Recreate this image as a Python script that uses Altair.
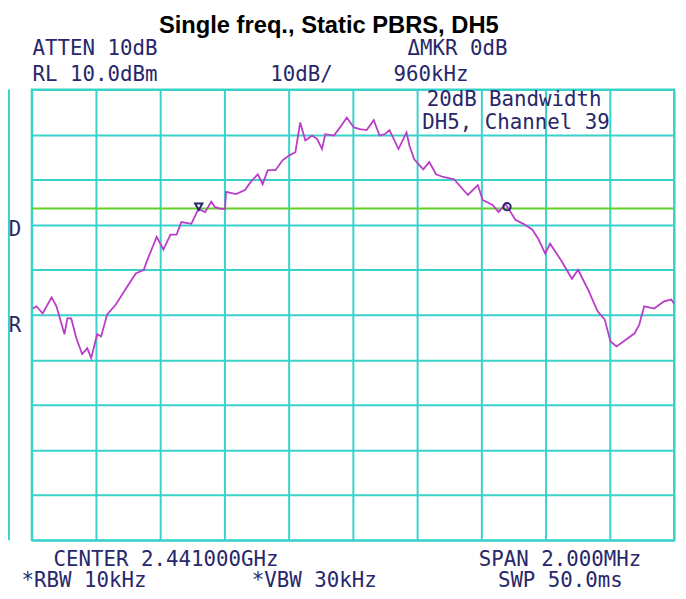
import altair as alt
import pandas as pd

# ---- data (frequency offset from centre in MHz, level in dBm) ----
freq_mhz = [-0.997, -0.985, -0.966, -0.938, -0.923, -0.907, -0.898, -0.889, -0.877, -0.861,
            -0.843, -0.827, -0.815, -0.796, -0.784, -0.765, -0.738, -0.707, -0.676, -0.651,
            -0.642, -0.611, -0.590, -0.568, -0.549, -0.534, -0.503, -0.481, -0.460, -0.441,
            -0.429, -0.411, -0.398, -0.395, -0.364, -0.336, -0.318, -0.296, -0.281, -0.265,
            -0.241, -0.219, -0.198, -0.179, -0.164, -0.148, -0.127, -0.111, -0.096, -0.086,
            -0.059, -0.040, -0.019, 0.003, 0.022, 0.043, 0.065, 0.083, 0.099, 0.114,
            0.142, 0.167, 0.176, 0.191, 0.219, 0.238, 0.259, 0.281, 0.315, 0.358,
            0.389, 0.404, 0.435, 0.454, 0.475, 0.485, 0.506, 0.531, 0.559, 0.577,
            0.599, 0.614, 0.651, 0.682, 0.701, 0.731, 0.762, 0.784, 0.802, 0.821,
            0.852, 0.877, 0.892, 0.907, 0.938, 0.969, 0.991, 1.000]
level_dbm = [-38.6, -38.1, -39.7, -36.1, -38.1, -42.1, -44.3, -40.8, -40.8, -45.2,
             -48.7, -47.4, -49.6, -44.3, -44.8, -39.9, -37.7, -34.2, -30.8, -30.0,
             -28.2, -22.7, -25.5, -22.2, -22.2, -19.4, -19.8, -16.5, -17.2, -14.9,
             -16.1, -16.5, -16.5, -12.7, -13.2, -12.3, -10.5, -8.8, -11.0, -7.9,
             -7.9, -5.7, -4.6, -3.9, 2.7, -1.3, -0.2, -1.0, -3.2, 0.1,
             -0.2, 1.6, 3.8, 1.6, 1.2, 1.0, 3.2, -0.2, 0.1, 1.0,
             -3.2, 0.5, -2.4, -5.5, -7.7, -6.1, -8.8, -9.4, -9.9, -13.4,
             -11.2, -14.5, -15.6, -17.2, -15.4, -16.5, -18.9, -19.8, -21.1, -23.1,
             -26.4, -24.2, -28.2, -32.0, -30.0, -34.2, -39.2, -41.0, -45.9, -47.0,
             -45.4, -44.1, -42.1, -38.1, -38.6, -37.0, -36.6, -37.5]

marker_freq = [-0.48, 0.48]
marker_level = [-16.0, -16.0]
marker_shape = ["triangle-down", "circle"]

display_line_dbm = [-16.4]

x_grid = [-1.0, -0.8, -0.6, -0.4, -0.2, 0.0, 0.2, 0.4, 0.6, 0.8, 1.0]
y_grid = [-90, -80, -70, -60, -50, -40, -30, -20, -10, 0, 10]

title_text = "Single freq., Static PBRS, DH5"

label_text = ["ATTEN 10dB", "RL 10.0dBm", "10dB/", "\u0394MKR 0dB", "960kHz",
              "20dB Bandwidth", "DH5, Channel 39", "D", "R",
              "CENTER 2.441000GHz", "SPAN 2.000MHz",
              "*RBW 10kHz", "*VBW 30kHz", "SWP 50.0ms"]
label_freq = [-0.803, -0.803, -0.160, 0.326, 0.243,
              0.502, 0.508, -1.052, -1.052,
              -0.582, 0.645,
              -0.837, -0.120, 0.646]
label_level = [17.7, 12.0, 12.0, 17.7, 12.0,
               6.3, 1.2, -22.5, -43.7,
               -95.7, -95.7,
               -100.5, -100.5, -100.5]

strip_edge_freq = [-1.071]

# ---- styling ----
CYAN = "#38d2ca"
NAVY = "#27276a"
TRACE = "#bb3cc8"
GREEN = "#62cf2c"

xenc = alt.X("f:Q", scale=alt.Scale(domain=[-1, 1], nice=False, zero=False),
             axis=alt.Axis(values=x_grid, grid=True, labels=False, ticks=False,
                           domain=False, title=None))
yenc = alt.Y("lvl:Q", scale=alt.Scale(domain=[-90, 10], nice=False, zero=False),
             axis=alt.Axis(values=y_grid, grid=True, labels=False, ticks=False,
                           domain=False, title=None))

trace_df = pd.DataFrame({"f": freq_mhz, "lvl": level_dbm})
marker_df = pd.DataFrame({"f": marker_freq, "lvl": marker_level, "shape": marker_shape})
dl_df = pd.DataFrame({"lvl": display_line_dbm})
strip_df = pd.DataFrame({"f": strip_edge_freq})
label_df = pd.DataFrame({"f": label_freq, "lvl": label_level, "t": label_text})
title_df = pd.DataFrame({"f": [-0.075], "lvl": [22.5], "t": [title_text]})

trace = alt.Chart(trace_df).mark_line(color=TRACE, strokeWidth=1.8).encode(x=xenc, y=yenc)

display_line = alt.Chart(dl_df).mark_rule(color=GREEN, strokeWidth=1.8).encode(y=yenc)

strip = alt.Chart(strip_df).mark_rule(color=CYAN, strokeWidth=2).encode(x=xenc)

markers = alt.Chart(marker_df).mark_point(filled=False, color=NAVY, strokeWidth=2, size=55,
                                          opacity=1).encode(
    x=xenc, y=yenc, shape=alt.Shape("shape:N", scale=None, legend=None))

labels = alt.Chart(label_df).mark_text(font="DejaVu Sans Mono", fontSize=21, color=NAVY,
                                       align="center", baseline="alphabetic").encode(
    x=xenc, y=yenc, text="t:N")

title = alt.Chart(title_df).mark_text(font="Liberation Sans", fontSize=24, fontWeight="bold",
                                      color="black", align="center",
                                      baseline="alphabetic").encode(
    x=xenc, y=yenc, text="t:N")

chart = alt.layer(display_line, strip, trace, markers, labels, title).properties(
    width=650, height=456,
    autosize=alt.AutoSizeParams(type="none"),
    padding={"left": 24, "top": 79, "right": 4, "bottom": 55},
    background="white",
).configure_axis(
    gridColor=CYAN, gridWidth=2, gridOpacity=1
).configure_view(
    stroke=CYAN, strokeWidth=2
)

chart.save("out.html", embed_options={"renderer": "svg", "actions": False})
